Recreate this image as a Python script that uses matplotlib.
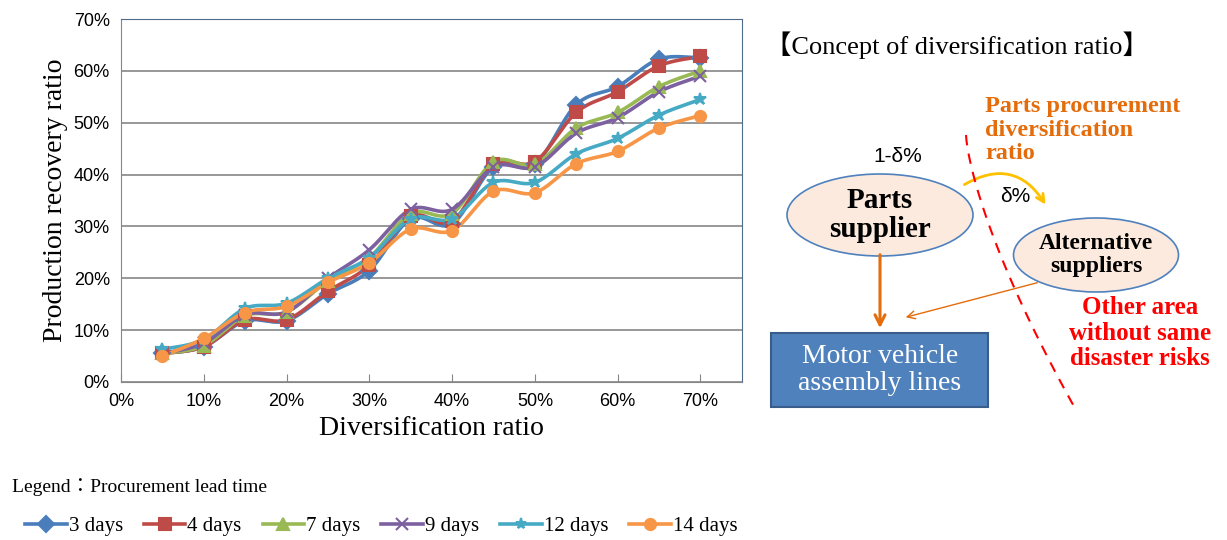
import matplotlib
matplotlib.use("Agg")
import matplotlib.pyplot as plt
import matplotlib.patches as mpatches
import matplotlib.ticker as mticker
import numpy as np

ratio = [5, 10, 15, 20, 25, 30, 35, 40, 45, 50, 55, 60, 65, 70]
d3  = [5.5, 6.8, 11.8, 11.8, 17.0, 21.5, 31.5, 30.5, 41.5, 42.0, 53.5, 57.0, 62.3, 62.5]
d4  = [5.5, 6.8, 12.0, 12.0, 17.5, 22.5, 32.0, 31.0, 42.0, 42.5, 52.0, 56.0, 61.0, 62.8]
d7  = [5.5, 7.0, 12.8, 13.5, 19.5, 24.0, 32.5, 32.5, 42.5, 42.0, 49.0, 52.0, 57.0, 60.0]
d9  = [5.5, 7.5, 13.0, 13.5, 20.0, 25.5, 33.3, 33.3, 41.5, 41.5, 48.0, 51.0, 56.0, 59.0]
d12 = [6.3, 8.2, 14.2, 15.2, 20.0, 24.0, 31.5, 31.5, 38.5, 38.5, 44.0, 47.0, 51.5, 54.5]
d14 = [5.0, 8.4, 13.4, 14.6, 19.2, 23.0, 29.5, 29.2, 36.8, 36.5, 42.1, 44.5, 49.0, 51.4]

series = [
    ("3 days", d3, "#4a7ebb", "D"),
    ("4 days", d4, "#be4b48", "s"),
    ("7 days", d7, "#98b954", "^"),
    ("9 days", d9, "#7d60a0", "x"),
    ("12 days", d12, "#46aac5", "*"),
    ("14 days", d14, "#f79646", "o"),
]


def smooth(x, y, n=12):
    # Catmull-Rom curve through the points, like Excel's smoothed line
    x = np.asarray(x, float); y = np.asarray(y, float)
    px = np.r_[x[0], x, x[-1]]; py = np.r_[y[0], y, y[-1]]
    ox, oy = [], []
    t = np.linspace(0, 1, n, endpoint=False)
    for i in range(1, len(px) - 2):
        for p, o in ((px, ox), (py, oy)):
            p0, p1, p2, p3 = p[i - 1], p[i], p[i + 1], p[i + 2]
            o.extend(0.5 * (2 * p1 + (-p0 + p2) * t + (2 * p0 - 5 * p1 + 4 * p2 - p3) * t ** 2
                            + (-p0 + 3 * p1 - 3 * p2 + p3) * t ** 3))
    ox.append(x[-1]); oy.append(y[-1])
    return ox, oy


SERIF = ["Liberation Serif", "Noto Sans CJK JP", "DejaVu Serif"]
plt.rcParams["font.family"] = SERIF

fig = plt.figure(figsize=(12.27, 5.4), dpi=100)
ax = fig.add_axes([0.0986, 0.2926, 0.506, 0.672])

handles = []
for name, vals, col, mk in series:
    sx, sy = smooth(ratio, vals)
    ax.plot(sx, sy, color=col, lw=2.6, zorder=3)
    ms = 8 if mk in "Ds^o" else 9
    ax.plot(ratio, vals, ls="none", marker=mk, color=col, ms=ms, mew=1.5, zorder=4)
    handles.append(plt.Line2D([], [], color=col, lw=2.6, marker=mk, ms=8, mew=1.5))

ax.set_xlim(0, 75)
ax.set_ylim(0, 70)
ax.set_xticks(range(0, 71, 10))
ax.set_yticks(range(0, 71, 10))
ax.xaxis.set_major_formatter(mticker.FuncFormatter(lambda v, _: f"{v:.0f}%"))
ax.yaxis.set_major_formatter(mticker.FuncFormatter(lambda v, _: f"{v:.0f}%"))
ax.tick_params(labelsize=13, length=0, pad=8)
ax.tick_params(axis="x", direction="in", length=6, color="#868686")
for lab in ax.get_xticklabels() + ax.get_yticklabels():
    lab.set_family(["Liberation Sans"])
ax.yaxis.grid(True, color="#868686", lw=1.2)
ax.set_axisbelow(True)
for s in ax.spines.values():
    s.set_color("#868686")
ax.spines["top"].set_color("#4f6a8a")
ax.spines["right"].set_color("#4f6a8a")
ax.set_xlabel("Diversification ratio", fontsize=20)
ax.set_ylabel("Production recovery ratio", fontsize=20)

fig.text(12 / 1227, 1 - 487 / 540, "Legend：Procurement lead time", fontsize=14, va="center")
fig.legend(handles, [s[0] for s in series], ncol=6, loc="center left",
           bbox_to_anchor=(0.005, 1 - 526 / 540), frameon=False, fontsize=15,
           handlelength=2.0, handletextpad=0.1, columnspacing=1.0)

# concept diagram (pixel coords of the figure)
W, H = 1227, 540


def fx(x):
    return x / W


def fy(y):
    return 1 - y / H


fig.text(fx(765), fy(45), "【Concept of diversification ratio】", fontsize=19, va="center")

for cx, cy, w, h in [(880, 215, 186, 82), (1096, 255, 165, 74)]:
    fig.add_artist(mpatches.Ellipse((fx(cx), fy(cy)), w / W, h / H, transform=fig.transFigure,
                                    facecolor="#fdeade", edgecolor="#4f81bd", lw=1.2))
fig.text(fx(880), fy(215), "Parts\nsupplier", ha="center", va="center", fontsize=21,
         fontweight="bold", linespacing=1.05)
fig.text(fx(1096), fy(255), "Alternative\nsuppliers", ha="center", va="center", fontsize=17,
         fontweight="bold", linespacing=1.1)
fig.text(fx(898), fy(157), "1-δ%", ha="center", va="center", fontsize=15,
         family=["Liberation Sans"])
fig.text(fx(1015), fy(197), "δ%", ha="center", va="center", fontsize=15,
         family=["Liberation Sans"])
fig.text(fx(985), fy(130), "Parts procurement\ndiversification\nratio", ha="left", va="center",
         fontsize=17.5, fontweight="bold", color="#e46c0a", linespacing=1.15)
fig.text(fx(1140), fy(333), "Other area\nwithout same\ndisaster risks", ha="center", va="center",
         fontsize=18, fontweight="bold", color="#ff0000", linespacing=1.15)

fig.add_artist(mpatches.FancyBboxPatch((fx(771), fy(407)), 217 / W, 74 / H,
                                       boxstyle="square,pad=0", transform=fig.transFigure,
                                       facecolor="#4f81bd", edgecolor="#385d8a", lw=1.5))
fig.text(fx(880), fy(370), "Motor vehicle\nassembly lines", ha="center", va="center",
         fontsize=20, color="white", linespacing=1.1)

fig.add_artist(mpatches.FancyArrowPatch((fx(880), fy(252)), (fx(880), fy(331)),
                                        transform=fig.transFigure, color="#e46c0a", lw=2.2,
                                        arrowstyle="->", mutation_scale=18))
fig.add_artist(mpatches.FancyArrowPatch((fx(1040), fy(282)), (fx(903), fy(318)),
                                        transform=fig.transFigure, color="#e46c0a", lw=1,
                                        arrowstyle="->", mutation_scale=14))
fig.add_artist(mpatches.FancyArrowPatch((fx(962), fy(186)), (fx(1047), fy(207)),
                                        transform=fig.transFigure, color="#ffc000", lw=2,
                                        arrowstyle="->", mutation_scale=14,
                                        connectionstyle="arc3,rad=-0.5"))
cy_ = np.linspace(135, 410, 50)
cx_ = 966 + 110 * ((cy_ - 135) / 275) ** 1.4
fig.add_artist(plt.Line2D(fx(cx_), fy(cy_), transform=fig.transFigure, color="#ff0000",
                          lw=1.5, ls=(0, (5, 4))))

fig.savefig("out.png", dpi=100)
